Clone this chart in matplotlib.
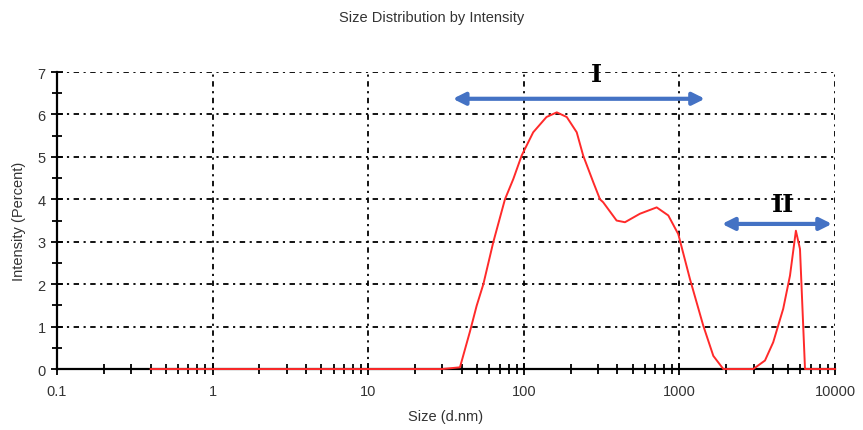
#!/usr/bin/env python3
"""Size distribution by intensity (DLS) with the two population ranges marked."""

import matplotlib
matplotlib.use("Agg")
from matplotlib import pyplot as plt
from matplotlib.ticker import FixedLocator, NullFormatter

# particle size (d.nm) and intensity (%) of the measured distribution
SIZE_NM = [0.4, 1.0, 10.0, 30.0, 38.9, 45, 49.8, 55, 63.7, 75.7, 85.7, 96.9,
           115, 140, 163, 189, 219, 241, 280, 309, 324, 395, 447, 558, 715,
           849, 984, 1170, 1425, 1653, 1916, 2500, 2985, 3550, 4010, 4650,
           5140, 5610, 5960, 6420, 8000, 10000]
INTENSITY = [0, 0, 0, 0, 0.04, 0.87, 1.49, 2.0, 2.99, 4.0, 4.48, 5.03,
             5.58, 5.94, 6.05, 5.94, 5.58, 5.03, 4.4, 4.0, 3.93, 3.5, 3.46,
             3.66, 3.81, 3.62, 3.18, 2.12, 1.02, 0.31, 0, 0, 0, 0.2, 0.63,
             1.42, 2.2, 3.26, 2.83, 0, 0, 0]

# population ranges: label, left size, right size, arrow height, label position
RANGES = [
    ("I", 35, 1460, 6.37, 295, 6.96),
    ("II", 1880, 9570, 3.42, 4630, 3.89),
]

XTICKS = [0.1, 1, 10, 100, 1000, 10000]
XTICK_LABELS = ["0.1", "1", "10", "100", "1000", "10000"]
YTICKS = list(range(0, 8))

plt.rcParams["font.family"] = ["Liberation Sans", "DejaVu Sans"]

fig = plt.figure(figsize=(8.63, 4.31), dpi=100)
ax = fig.add_axes([0.066, 0.1415, 0.9015, 0.689])

grid_style = dict(color="black", linewidth=1.3, linestyle=(0, (3, 2.5, 1.2, 2.5)))
for x in XTICKS[1:]:
    ax.axvline(x, zorder=1, **grid_style)
for y in YTICKS[1:]:
    ax.axhline(y, zorder=1, **grid_style)

ax.plot(SIZE_NM, INTENSITY, color="#ff2a2a", linewidth=1.4, zorder=5,
        clip_on=False, solid_joinstyle="round")

ax.set_xscale("log")
ax.set_xlim(0.1, 10000)
ax.set_ylim(0, 7)

ax.set_xticks(XTICKS)
ax.set_xticklabels(XTICK_LABELS)
minor_x = [m * 10.0 ** e for e in range(-1, 4) for m in range(2, 10)]
ax.xaxis.set_minor_locator(FixedLocator(minor_x))
ax.xaxis.set_minor_formatter(NullFormatter())
ax.set_yticks(YTICKS)
ax.yaxis.set_minor_locator(FixedLocator([y + 0.5 for y in YTICKS[:-1]]))

ax.tick_params(which="major", direction="inout", length=9, width=1.3,
               labelsize=10.5, colors="black", labelcolor="#333333")
ax.tick_params(which="minor", direction="inout", length=7, width=1.3)
ax.tick_params(axis="x", which="major", pad=6)

for side in ("top", "right"):
    ax.spines[side].set_visible(False)
for side in ("left", "bottom"):
    ax.spines[side].set_linewidth(1.6)

ax.set_xlabel("Size (d.nm)", fontsize=10.5, color="#333333", labelpad=8)
ax.set_ylabel("Intensity (Percent)", fontsize=10.5, color="#333333", labelpad=8)
fig.suptitle("Size Distribution by Intensity", fontsize=10.5, color="#333333", y=0.975)

for label, left, right, height, lx, ly in RANGES:
    ax.annotate("", xy=(left, height), xytext=(right, height),
                arrowprops=dict(arrowstyle="<|-|>", color="#4472c4", lw=3,
                                mutation_scale=18, shrinkA=0, shrinkB=0),
                zorder=6, annotation_clip=False)
    ax.text(lx, ly, label, fontsize=17, fontweight="bold", family="DejaVu Serif",
            ha="center", va="center", color="black", zorder=7, clip_on=False)

fig.savefig("out.png", dpi=100)
